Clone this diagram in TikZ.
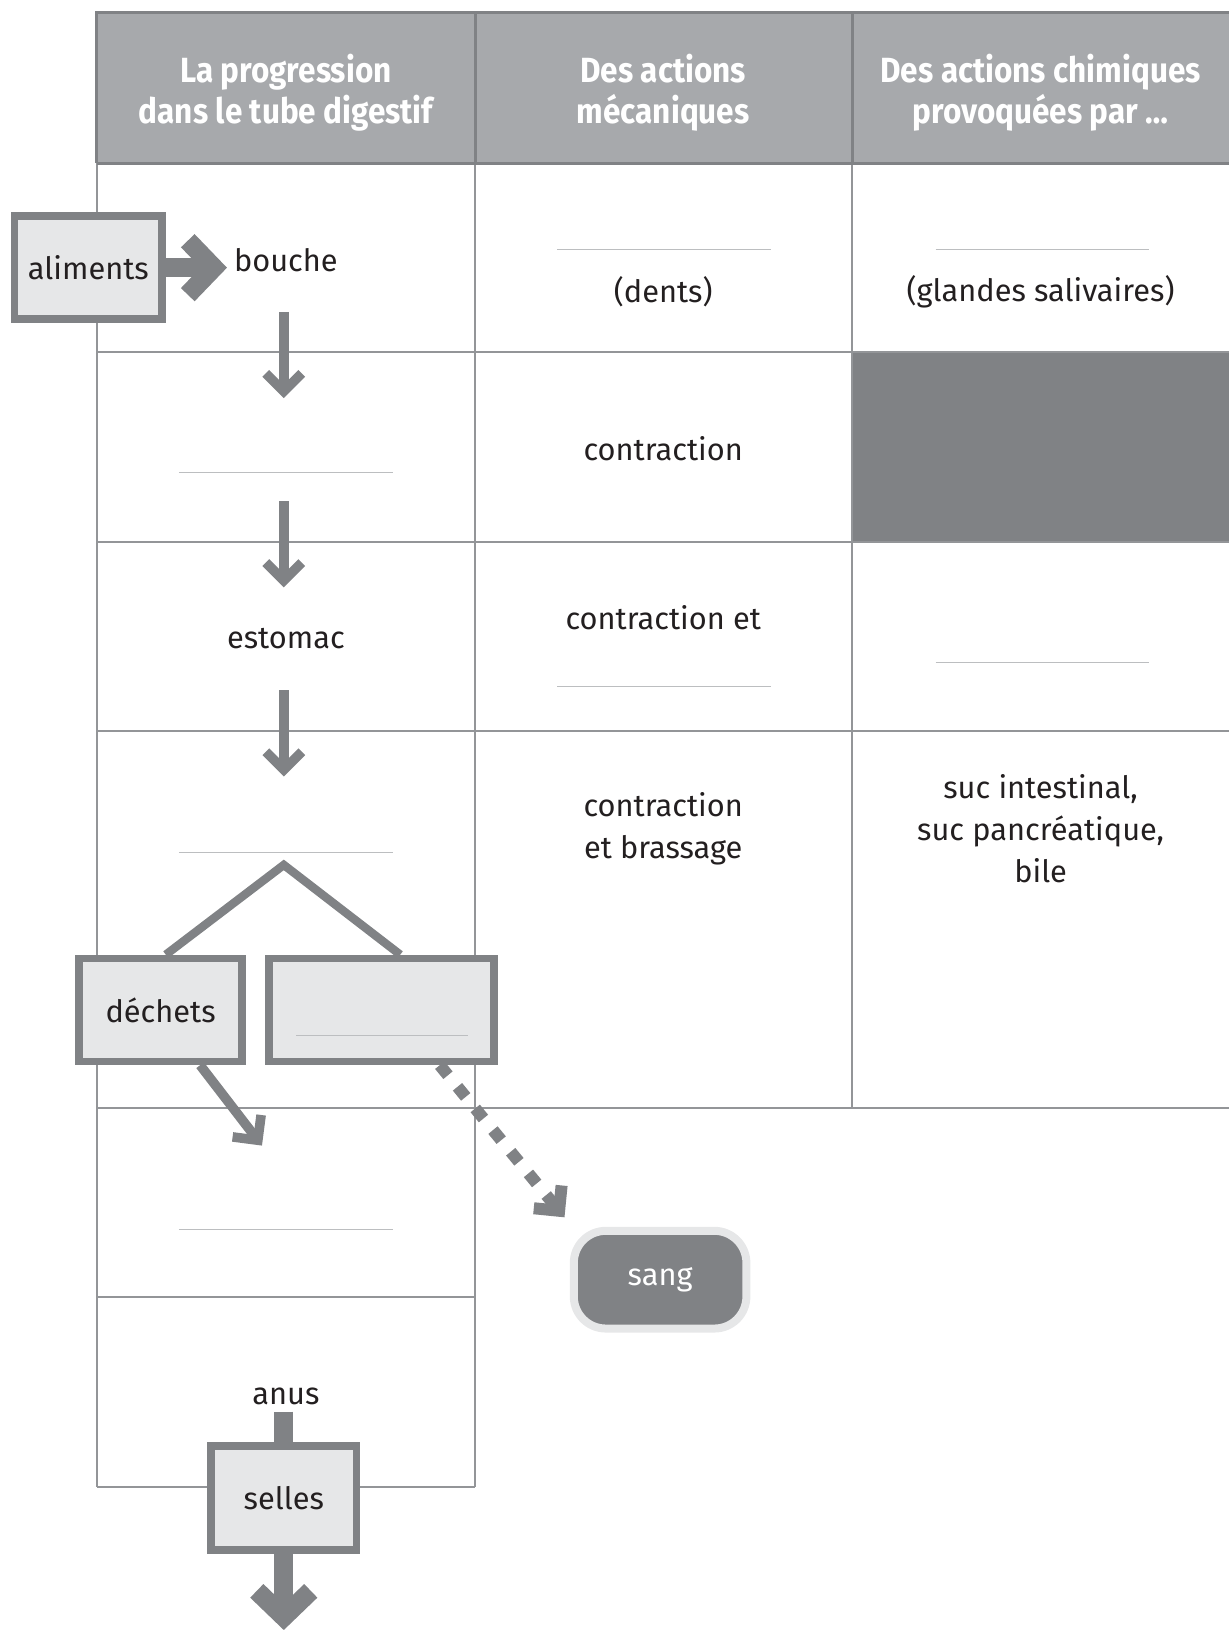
\documentclass[tikz,border=0pt]{standalone}
\usepackage{fontspec}
\setmainfont{Fira Sans}
\newfontfamily\headfont[FakeStretch=0.9]{Fira Sans}
\usetikzlibrary{arrows.meta, positioning, calc}
\definecolor{darkgrey}{HTML}{808285}
\definecolor{midgrey}{HTML}{A7A9AC}
\definecolor{bodygrey}{HTML}{939598}
\definecolor{lightgrey}{HTML}{E6E7E8}
\definecolor{linegrey}{HTML}{BCBEC0}
\definecolor{ink}{HTML}{231F20}
\def\px{0.52pt}
\tikzset{
  cell/.style={font=\fontsize{15.4}{21}\selectfont, text=ink, align=center},
  head/.style={font=\headfont\bfseries\fontsize{17.5}{20.3}\selectfont, text=white, align=center},
  grid/.style={draw=bodygrey, line width=1pt},
  headline/.style={draw=darkgrey, line width=1.5pt},
  answer/.style={draw=linegrey, line width=0.5pt},
  flow/.style={draw=darkgrey, line width=4.8pt, -{Straight Barb[length=9pt,width=18pt,sharp]}},
  bigflow/.style={draw=darkgrey, line width=9.5pt, -{Straight Barb[length=13pt,width=27pt,sharp]}},
  dashflow/.style={flow, line width=6pt, dash pattern=on 6.5pt off 7.5pt},
  branch/.style={draw=darkgrey, line width=4.2pt},
  box/.style={cell, draw=darkgrey, fill=lightgrey, line width=3.8pt, inner sep=0pt},
  sangbox/.style={draw=lightgrey, fill=darkgrey, line width=4pt, rounded corners=16pt,
    text=white, font=\fontsize{15.4}{21}\selectfont, inner sep=0pt}
}
\begin{document}
\begin{tikzpicture}[x=0.52pt, y=-0.52pt]
\useasboundingbox (0,0) rectangle (1182,1568);

% en-tete et grille du tableau
\fill[midgrey] (93,12) rectangle (1182,157);
\fill[darkgrey] (820,339) rectangle (1182,521);
\foreach \y in {339,521,703,1066} \draw[grid] (93,\y) -- (1182,\y);
\foreach \y in {1248,1430} \draw[grid] (93,\y) -- (457,\y);
\draw[grid] (93,157) -- (93,1430) (457,157) -- (457,1430) (820,157) -- (820,1066);
\draw[headline] (93,157) -- (93,12) -- (1182,12) (93,157) -- (1182,157)
  (457,12) -- (457,157) (820,12) -- (820,157);

\node[head] (h1) at (275,89) {La progression\\dans le tube digestif};
\node[head] (h2) at (638,89) {Des actions\\mécaniques};
\node[head] (h3) at (1001,89) {Des actions chimiques\\provoquées par …};

% lignes a completer
\draw[answer] (536,240) -- (742,240);
\draw[answer] (900,240) -- (1105,240);
\draw[answer] (172,455) -- (378,455);
\draw[answer] (536,660) -- (742,660);
\draw[answer] (900,637) -- (1105,637);
\draw[answer] (172,820) -- (378,820);
\draw[answer] (172,1183) -- (378,1183);

% textes des cases
\node[cell] (bouche) at (275,250) {bouche};
\node[cell] (dents) at (638,281) {(dents)};
\node[cell] (salive) at (1001,281) {(glandes salivaires)};
\node[cell] (contr1) at (638,432) {contraction};
\node[cell] (estomac) at (275,614) {estomac};
\node[cell] (contr2) at (638,594) {contraction et};
\node[cell] (contr3) at (638,797) {contraction\\et brassage};
\node[cell] (sucs) at (1001,797) {suc intestinal,\\suc pancréatique,\\bile};
\node[cell] (anus) at (275,1343) {anus};

% fleches
\coordinate (d1) at (273,300); \coordinate (f1) at (273,383);
\coordinate (d2) at (273,482); \coordinate (f2) at (273,565);
\coordinate (d3) at (273,664); \coordinate (f3) at (273,747);
\coordinate (fork) at (273,832);
\coordinate (poubelle) at (252,1102);
\coordinate (veine) at (543,1171);
\coordinate (sortie) at (273,1568);
\draw[flow] (d1) -- (f1);
\draw[flow] (d2) -- (f2);
\draw[flow] (d3) -- (f3);

\node[box, minimum width=142*\px, minimum height=99*\px] (aliments) at (85,257.5) {aliments};
\node[box, minimum width=157*\px, minimum height=99*\px] (dechets) at (154.5,971.5) {déchets};
\node[box, minimum width=216*\px, minimum height=99*\px] (nutr) at (367,971.5) {};
\node[box, minimum width=140*\px, minimum height=100*\px] (selles) at (273,1441) {selles};
\node[sangbox, minimum width=166*\px, minimum height=94*\px] (sang) at (635,1231) {sang};
\draw[answer] (285,996) -- (450,996);

\draw[branch] ($(dechets.north)+(5,0)$) -- (fork) -- ($(nutr.north)+(18,0)$);
\draw[bigflow] (aliments.east) -- (aliments.east -| bouche.west);
\draw[flow] ($(dechets.south)+(38,0)$) -- (poubelle);
\draw[dashflow] ($(nutr.south)+(56,0)$) -- (veine);
\draw[bigflow, -] (anus.south -| selles.north) -- (selles.north);
\draw[bigflow] (selles.south) -- (sortie);
\end{tikzpicture}
\end{document}
